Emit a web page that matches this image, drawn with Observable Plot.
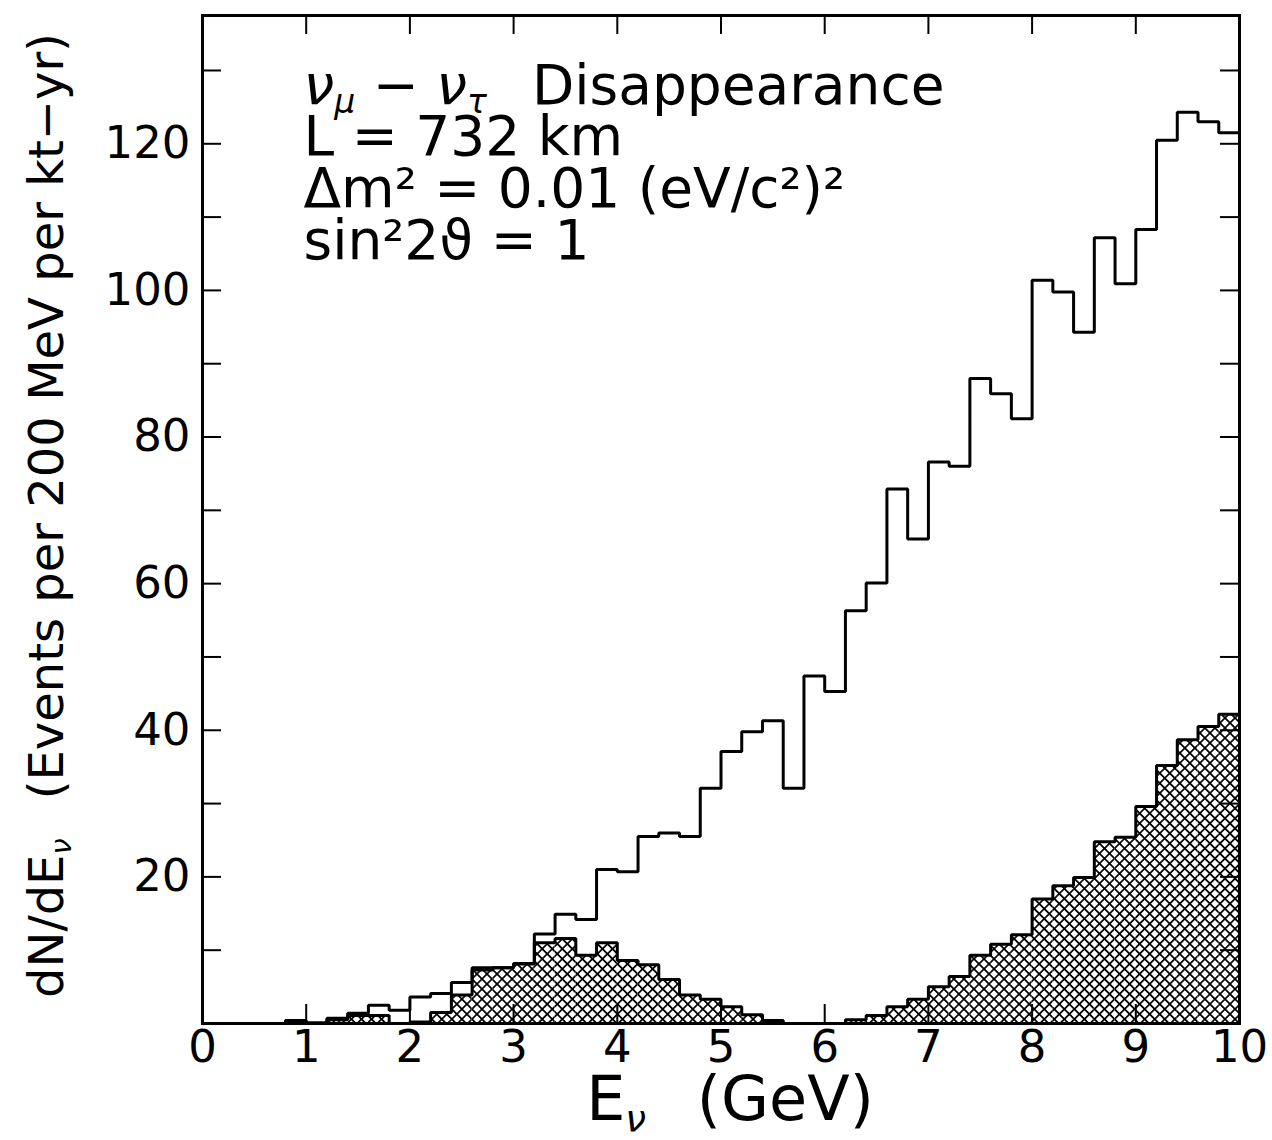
<!DOCTYPE html>
<html>
<head>
<meta charset="utf-8">
<script src="https://cdn.jsdelivr.net/npm/d3@7"></script>
<script src="https://cdn.jsdelivr.net/npm/@observablehq/plot@0.6"></script>
<style>
  html, body { margin: 0; padding: 0; background: #fff; }
  svg { display: block; }
</style>
</head>
<body>
<div id="chart"></div>
<script>
// ---- data ----
const binLo = [0.0,0.2,0.4,0.6,0.8,1.0,1.2,1.4,1.6,1.8,
               2.0,2.2,2.4,2.6,2.8,3.0,3.2,3.4,3.6,3.8,
               4.0,4.2,4.4,4.6,4.8,5.0,5.2,5.4,5.6,5.8,
               6.0,6.2,6.4,6.6,6.8,7.0,7.2,7.4,7.6,7.8,
               8.0,8.2,8.4,8.6,8.8,9.0,9.2,9.4,9.6,9.8];
// open histogram (no oscillation)
const openVals = [0,0,0,0,0.4,0.1,0.7,1.4,2.5,1.8,
                  3.6,4.1,5.6,7.6,7.6,8.2,12.2,14.9,14.2,21.0,
                  20.7,25.5,26.0,25.5,32.1,37.1,39.8,41.3,32.1,47.4,
                  45.3,56.3,60.1,72.9,66.1,76.6,76.0,88.0,85.9,82.5,
                  101.4,99.8,94.3,107.2,100.9,108.3,120.5,124.3,123.0,121.5];
// hatched histogram (disappearance)
const hatchVals = [0,0,0,0,0,0,0.5,1.1,1.1,0,
                   0.2,1.5,3.9,7.3,7.6,8.1,11.0,11.6,9.3,11.0,
                   8.6,8.0,6.0,3.9,3.3,2.3,1.2,0.4,0,0,
                   0,0.5,1.1,2.3,3.3,5.0,6.4,9.3,10.8,12.1,
                   17.0,18.8,19.9,24.8,25.4,29.6,35.2,38.7,40.5,42.2];
const xTicks = [0,1,2,3,4,5,6,7,8,9,10];
const yTicks = [0,10,20,30,40,50,60,70,80,90,100,110,120,130];
const yLabels = [20,40,60,80,100,120];
const xMax = 10, yMax = 137.5;

const annLines = [
  "ν_{μ} − ν_{τ}\u2002 Disappearance",
  "L = 732 km",
  "Δm² = 0.01 (eV/c²)²",
  "sin²2ϑ = 1"
];
const xTitle = "E_{ν}\u2002 (GeV)";
const yTitle = "dN/dE_{ν}\u2002 (Events per 200 MeV per kt−yr)";

// ---- derived tables ----
const binHi = binLo.map((x, i) => i < binLo.length - 1 ? binLo[i + 1] : xMax);
const hatchBins = binLo.map((x, i) => ({x1: x, x2: binHi[i], v: hatchVals[i]}));
const steps = vals => binLo.map((x, i) => ({x, v: vals[i]}))
  .concat([{x: xMax, v: vals[vals.length - 1]}]);

// ---- layout ----
const W = 1272, H = 1140;
const mt = 15, mb = 117, ml = 202, mr = 33;
const innerH = H - mt - mb, innerW = W - ml - mr;
const tickLen = 19;
const font = "DejaVu Sans";

const lineOpts = {x: "x", y: "v", curve: "step-after", stroke: "black",
                  strokeWidth: 3, strokeLinejoin: "miter", strokeLinecap: "square"};

const svg = Plot.plot({
  width: W, height: H,
  marginTop: mt, marginBottom: mb, marginLeft: ml, marginRight: mr,
  x: {domain: [0, xMax]},
  y: {domain: [0, yMax]},
  style: {fontFamily: font, background: "white", color: "black", overflow: "visible"},
  marks: [
    Plot.rectY(hatchBins, {x1: "x1", x2: "x2", y: "v", fill: "url(#xhatch)"}),
    Plot.line(steps(hatchVals), lineOpts),
    Plot.line(steps(openVals), lineOpts),
    Plot.ruleX(xTicks, {insetTop: innerH - tickLen, stroke: "black", strokeWidth: 2}),
    Plot.ruleX(xTicks, {insetBottom: innerH - tickLen, stroke: "black", strokeWidth: 2}),
    Plot.ruleY(yTicks, {insetRight: innerW - tickLen, stroke: "black", strokeWidth: 2}),
    Plot.ruleY(yTicks, {insetLeft: innerW - tickLen, stroke: "black", strokeWidth: 2}),
    Plot.axisX({ticks: xTicks, tickSize: 0, tickPadding: 7, fontSize: 45, label: null, fontFamily: font}),
    Plot.axisY({ticks: yLabels, tickSize: 0, tickPadding: 12, fontSize: 45, label: null, fontFamily: font}),
    Plot.frame({stroke: "black", strokeWidth: 3}),
    ...annLines.map((s, i) => Plot.text([s], {
      text: d => d, frameAnchor: "top-left", textAnchor: "start", lineAnchor: "bottom",
      dx: 101, dy: 88 + i * 51.7, fontSize: 55, fill: "black", fontFamily: font
    })),
    Plot.text([xTitle], {
      text: d => d, frameAnchor: "bottom", textAnchor: "middle", lineAnchor: "bottom",
      dx: 9, dy: 96, fontSize: 62, fill: "black", fontFamily: font
    }),
    Plot.text([yTitle], {
      text: d => d, frameAnchor: "left", textAnchor: "middle", lineAnchor: "bottom",
      rotate: -90, dx: -140, dy: -4, fontSize: 48, fill: "black", fontFamily: font
    })
  ]
});

document.getElementById("chart").appendChild(svg);

// cross-hatch pattern
const defs = d3.select(svg).insert("defs", ":first-child");
const pat = defs.append("pattern")
  .attr("id", "xhatch")
  .attr("patternUnits", "userSpaceOnUse")
  .attr("width", 7.1).attr("height", 7.1)
  .attr("patternTransform", "rotate(45)");
pat.append("rect").attr("width", 7.1).attr("height", 7.1).attr("fill", "white");
pat.append("path").attr("d", "M0,3.55H7.1M3.55,0V7.1")
  .attr("stroke", "black").attr("stroke-width", 1.7).attr("fill", "none");

// rich text: subscripts and italic Greek letters
function richify(el) {
  const s = el.textContent;
  if (!/[_^]\{|[νμτ]/.test(s)) return;
  const fs = parseFloat(getComputedStyle(el).fontSize);
  el.textContent = "";
  const parts = s.split(/(_\{[^}]*\}|\^\{[^}]*\})/).filter(p => p);
  let shift = 0;
  for (const p of parts) {
    let txt = p, size = fs, off = 0;
    if (p.startsWith("_{")) { txt = p.slice(2, -1); size = fs * 0.6; off = fs * 0.18; }
    else if (p.startsWith("^{")) { txt = p.slice(2, -1); size = fs * 0.6; off = -fs * 0.38; }
    for (const seg of txt.split(/([νμτ])/).filter(q => q)) {
      const t = d3.select(el).append("tspan").text(seg).attr("font-size", size);
      if (/[νμτ]/.test(seg)) t.attr("font-style", "italic");
      t.attr("dy", off - shift);
      shift = off;
    }
  }
}
d3.select(svg).selectAll("text").each(function () { richify(this); });
</script>
</body>
</html>
